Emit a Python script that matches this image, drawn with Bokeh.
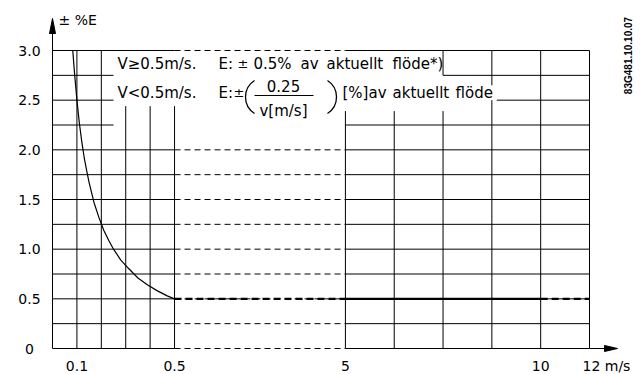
import numpy as np
from bokeh.plotting import figure
from bokeh.models import Range1d, ColumnDataSource
from bokeh.core.properties import value
from bokeh.embed import file_html
from bokeh.resources import INLINE

# ---------------- data ----------------
curve_v = [0.083, 0.09, 0.10, 0.11, 0.12, 0.13, 0.14, 0.15, 0.17, 0.19,
           0.21, 0.23, 0.25, 0.28, 0.31, 0.35, 0.39, 0.43, 0.47, 0.50]
curve_e = [3.00, 2.78, 2.50, 2.27, 2.08, 1.92, 1.79, 1.67, 1.47, 1.32,
           1.19, 1.09, 1.00, 0.89, 0.81, 0.71, 0.64, 0.58, 0.53, 0.50]
flat_e = 0.5
flat_dash_a = [0.5, 5]
flat_solid = [5, 10]
flat_dash_b = [10, 12]

x_ticks = [0.1, 0.5, 5, 10, 12]
x_labels = ["0.1", "0.5", "5", "10", "12 m/s"]
y_ticks = [0, 0.5, 1.0, 1.5, 2.0, 2.5, 3.0]
y_labels = ["0", "0.5", "1.0", "1.5", "2.0", "2.5", "3.0"]

# broken (piecewise) velocity axis -> display units
V_BREAK = [0, 0.5, 5, 10, 12]
U_BREAK = [0, 5, 12, 20, 22]


def xu(v):
    return np.interp(v, V_BREAK, U_BREAK)


# ---------------- layout ----------------
W, H = 643, 374
PX_X0, PX_U22 = 52, 589        # pixel of u=0 and u=22
PX_Y3, PX_Y0 = 50, 348         # pixel of E=3 and E=0
sx = (PX_U22 - PX_X0) / 22.0
sy = (PX_Y0 - PX_Y3) / 3.0
x_start = -PX_X0 / sx
x_end = x_start + W / sx
y_end = 3 + PX_Y3 / sy
y_start = -(H - PX_Y0) / sy

p = figure(width=W, height=H, x_range=Range1d(x_start, x_end),
           y_range=Range1d(y_start, y_end), x_axis_type=None, y_axis_type=None,
           toolbar_location=None, output_backend="svg", min_border=0,
           outline_line_color=None, background_fill_color="white",
           border_fill_color="white")

INK = "black"
FONT = value("DejaVu Sans")


def ux(px):
    return (px - PX_X0) / sx


def ey(py):
    return 3 - (py - PX_Y3) / sy


# ---- horizontal grid lines ----
levels = np.arange(0, 3.001, 0.25)
sol_x0, sol_x1, sol_y = [], [], []
dsh_x0, dsh_x1, dsh_y = [], [], []
for L in levels:
    Lr = round(L, 2)
    in_box = Lr in (2.25, 2.5, 2.75)
    sol_x0.append(0); sol_x1.append(2.5 if in_box else 5); sol_y.append(Lr)
    if not in_box:
        dsh_x0.append(5); dsh_x1.append(12); dsh_y.append(Lr)
    if Lr == 2.75:
        a = 16
    elif Lr == 2.5:
        a = 18.2
    else:
        a = 12
    sol_x0.append(a); sol_x1.append(22); sol_y.append(Lr)

p.segment(x0=sol_x0, y0=sol_y, x1=sol_x1, y1=sol_y, line_color=INK, line_width=1)
p.segment(x0=dsh_x0, y0=dsh_y, x1=dsh_x1, y1=dsh_y, line_color=INK,
          line_width=1, line_dash="6 4")

# ---- vertical grid lines ----
vx, vy0, vy1 = [], [], []
for u in [1, 2]:
    vx.append(u); vy0.append(0); vy1.append(3)
for u in [3, 4, 5]:
    vx.append(u); vy0.append(0); vy1.append(2.44)
for u in [12, 14]:
    vx.append(u); vy0.append(0); vy1.append(2.39)
vx += [16, 16]; vy0 += [0, 2.75]; vy1 += [2.39, 3]
vx += [18, 18]; vy0 += [0, 2.65]; vy1 += [2.5, 3]
for u in [20, 22]:
    vx.append(u); vy0.append(0); vy1.append(3)
p.segment(x0=vx, y0=vy0, x1=vx, y1=vy1, line_color=INK, line_width=1)

# ---- axes arrows ----
y_tip = ey(18)
y_base = ey(33)
p.segment(x0=[0], y0=[0], x1=[0], y1=[y_base], line_color=INK, line_width=1)
p.patch([0, -3 / sx, 3 / sx], [y_tip, y_base, y_base], fill_color=INK, line_color=INK)
x_tip = ux(617)
x_base = ux(604)
p.segment(x0=[22], y0=[0], x1=[x_base], y1=[0], line_color=INK, line_width=1)
p.patch([x_tip, x_base, x_base], [0, 3 / sy, -3 / sy], fill_color=INK, line_color=INK)

# ---- data: error curve and 0.5 % line ----
p.line(xu(curve_v), curve_e, line_color=INK, line_width=1.2)
p.line(xu(flat_solid), [flat_e] * 2, line_color=INK, line_width=2.2)
p.multi_line([list(xu(flat_dash_a)), list(xu(flat_dash_b))], [[flat_e] * 2, [flat_e] * 2],
             line_color=INK, line_width=2.2, line_dash="7 4")

# ---- tick labels ----
p.text(x=[ux(29)] * len(y_ticks), y=y_ticks, text=y_labels, text_font=FONT,
       text_font_size="14px", text_align="center", text_baseline="middle", text_color=INK)
xt_u = list(xu(x_ticks))
p.text(x=xt_u[:-1], y=[ey(365)] * 4, text=x_labels[:-1], text_font=FONT,
       text_font_size="14px", text_align="center", text_baseline="middle", text_color=INK)
p.text(x=[xt_u[-1]], y=[ey(365)], text=[x_labels[-1]], text_font=FONT, x_offset=-7,
       text_font_size="14px", text_align="left", text_baseline="middle", text_color=INK)

# y title
p.text(x=[ux(58)], y=[ey(19)], text=["± %E"], text_font=FONT,
       text_font_size="14px", text_align="left", text_baseline="middle", text_color=INK)

# drawing code (rotated)
p.text(x=[ux(628)], y=[ey(55)], text=["83G481.10.10.07"],
       text_font=value("Liberation Sans"), text_font_style="bold", text_font_size="10px",
       angle=np.pi / 2, text_align="center", text_baseline="middle", text_color=INK)

# ---- annotation texts ----
ann = ColumnDataSource(dict(
    x=[ux(117), ux(218), ux(253), ux(300), ux(326), ux(392),
       ux(117), ux(218), ux(342), ux(392), ux(455)],
    y=[ey(63)] * 6 + [ey(92)] * 5,
    t=["V≥0.5m/s.", "E:", "0.5%", "av", "aktuellt", "flöde*)",
       "V<0.5m/s.", "E:", "[%]av", "aktuellt", "flöde"],
))
p.text(x="x", y="y", text="t", source=ann, text_font=FONT, text_font_size="15px",
       text_align="left", text_baseline="middle", text_color=INK)
p.text(x=[ux(237), ux(233)], y=[ey(63), ey(92)], text=["±", "±"], text_font=FONT,
       text_font_size="13px", text_align="left", text_baseline="middle", text_color=INK)

# fraction
p.text(x=[ux(283), ux(283)], y=[ey(85), ey(110)], text=["0.25", "v[m/s]"],
       text_font=FONT, text_font_size="15px", text_align="center",
       text_baseline="middle", text_color=INK)
p.segment(x0=[ux(254)], y0=[ey(95)], x1=[ux(313)], y1=[ey(95)], line_color=INK, line_width=1)

# big parentheses drawn as arcs (screen radius)
half = np.arcsin(16.5 / 19.6)
p.arc(x=[ux(245 + 19.6)], y=[ey(96.5)], radius=19.6, radius_units="screen",
      start_angle=np.pi - half, end_angle=np.pi + half, line_color=INK, line_width=1.3)
p.arc(x=[ux(336 - 19.6)], y=[ey(96.5)], radius=19.6, radius_units="screen",
      start_angle=-half, end_angle=half, line_color=INK, line_width=1.3)

open("out.html", "w").write(file_html(p, INLINE))
